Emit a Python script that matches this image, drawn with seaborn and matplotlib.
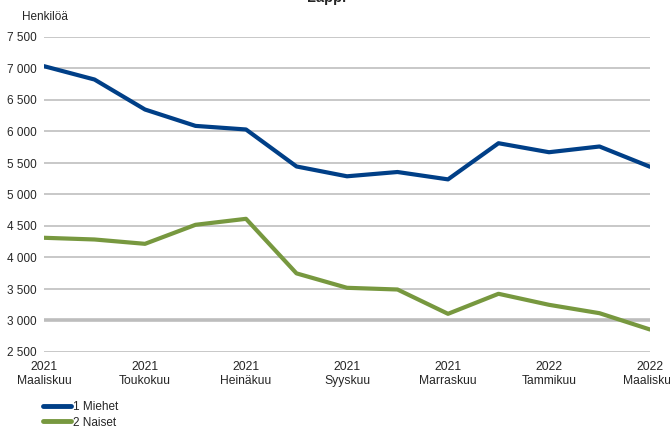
import matplotlib
matplotlib.use("Agg")
import matplotlib.pyplot as plt
import seaborn as sns
import pandas as pd
import numpy as np

months = ["2021-03", "2021-04", "2021-05", "2021-06", "2021-07", "2021-08", "2021-09",
          "2021-10", "2021-11", "2021-12", "2022-01", "2022-02", "2022-03"]
miehet = [7037, 6825, 6349, 6089, 6032, 5445, 5289, 5357, 5240, 5814, 5671, 5762, 5440]
naiset = [4313, 4286, 4217, 4519, 4614, 3748, 3519, 3492, 3106, 3424, 3249, 3116, 2857]
series_names = ["1 Miehet", "2 Naiset"]
tick_labels = ["2021\nMaaliskuu", "2021\nToukokuu", "2021\nHeinäkuu", "2021\nSyyskuu",
               "2021\nMarraskuu", "2022\nTammikuu", "2022\nMaaliskuu"]
y_ticks = [2500, 3000, 3500, 4000, 4500, 5000, 5500, 6000, 6500, 7000, 7500]

sns.set_style("white")
plt.rcParams['font.family'] = ['Liberation Sans', 'DejaVu Sans']

df = pd.DataFrame({
    "idx": list(range(len(months))) * 2,
    "value": miehet + naiset,
    "series": [series_names[0]] * len(months) + [series_names[1]] * len(months),
})

W, H = 670, 428
fig = plt.figure(figsize=(W / 100, H / 100), dpi=100)
ax = fig.add_axes([44 / W, (H - 352) / H, (650 - 44) / W, (352 - 37) / H])

palette = {series_names[0]: "#003f87", series_names[1]: "#77983f"}
sns.lineplot(data=df, x="idx", y="value", hue="series", palette=palette,
             linewidth=3.0, ax=ax, legend=False, zorder=3)

ax.set_xlim(0, len(months) - 1)
ax.set_ylim(2500, 7500)
ax.set_yticks(y_ticks)
ax.set_yticklabels([f"{v:,}".replace(",", " ") for v in y_ticks], fontsize=8.5)
ax.set_xticks(list(range(0, len(months), 2)))
ax.set_xticklabels(tick_labels, fontsize=8.7, linespacing=1.25,
                   family=['Liberation Sans Narrow', 'Liberation Sans'])
ax.tick_params(axis='x', length=0, pad=6.5)
ax.tick_params(axis='y', length=0, pad=5)
ax.set_xlabel("")
ax.set_ylabel("")
for s in ax.spines.values():
    s.set_visible(False)
ax.yaxis.grid(True, color="#c4c4c4", linewidth=1.3)
ax.xaxis.grid(False)
ax.axhline(3000, color="#bdbdbd", linewidth=2.6, zorder=2)

fig.text(22 / W, (H - 17) / H, "Henkilöä", fontsize=8.5, va="center", ha="left")
fig.text(327 / W, (H - 2) / H, "Lappi", fontsize=10.5, fontweight="bold",
         ha="center", va="baseline")

from matplotlib.lines import Line2D
handles = [Line2D([0], [0], color=palette[n], linewidth=3.5) for n in series_names]
fig.legend(handles, series_names, loc="upper left",
           bbox_to_anchor=(43 / W, (H - 401) / H), frameon=False, fontsize=8.5,
           handlelength=2.4, handletextpad=0.15, labelspacing=0.3,
           borderaxespad=0, borderpad=0)

fig.savefig("out.png", dpi=100)
